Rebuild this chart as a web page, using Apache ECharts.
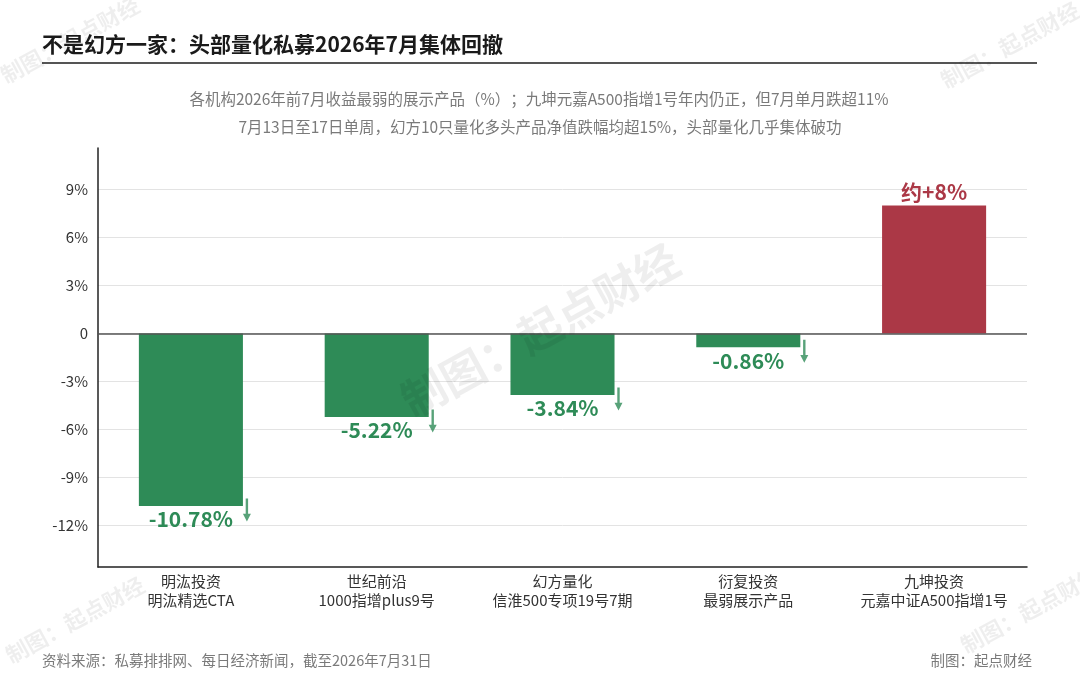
<!DOCTYPE html>
<html>
<head>
<meta charset="utf-8">
<script src="https://cdn.jsdelivr.net/npm/echarts@6/dist/echarts.min.js"></script>
<style>
html,body{margin:0;padding:0;background:#fff;}
#main{width:1080px;height:675px;}
</style>
</head>
<body>
<div id="main"></div>
<script>
var categories = ['明汯投资\n明汯精选CTA', '世纪前沿\n1000指增plus9号', '幻方量化\n信淮500专项19号7期', '衍复投资\n最弱展示产品', '九坤投资\n元嘉中证A500指增1号'];
var values = [-10.78, -5.22, -3.84, -0.86, 8];
var tickValues = [-12, -9, -6, -3, 0, 3, 6, 9];
var yMin = -14.6;
var yMax = 11.6;

var GREEN = '#2E8B57';
var RED = '#AB3846';
var FONT = '"Noto Sans CJK SC", "Noto Sans", sans-serif';

var chart = echarts.init(document.getElementById('main'));

var barData = values.map(function (v) {
  return { value: v, itemStyle: { color: v < 0 ? GREEN : RED },
    label: { position: v < 0 ? 'bottom' : 'top', color: v < 0 ? GREEN : RED } };
});
var arrowData = values.map(function (v, i) { return v < 0 ? [i, v] : null; }).filter(function (d) { return d; });

function wm(x, y, size, rot) {
  return { type: 'text', x: x, y: y, rotation: rot, silent: true, z: 100,
    style: { text: '制图：起点财经', fill: 'rgba(0,0,0,0.065)', font: 'bold ' + size + 'px ' + FONT, textAlign: 'center', textVerticalAlign: 'middle' } };
}

chart.setOption({
  backgroundColor: '#fff',
  textStyle: { fontFamily: FONT },
  animation: false,
  grid: { left: 98, right: 53, top: 148, bottom: 108 },
  xAxis: {
    type: 'category',
    data: categories,
    axisLine: { onZero: false, lineStyle: { color: '#222', width: 1.5 } },
    axisTick: { show: false },
    axisLabel: { color: '#333', fontSize: 15, lineHeight: 19, margin: 5, interval: 0 }
  },
  yAxis: {
    type: 'value',
    min: yMin,
    max: yMax,
    axisLine: { show: true, lineStyle: { color: '#222', width: 1.5 } },
    axisTick: { show: false, customValues: tickValues },
    axisLabel: { customValues: tickValues, color: '#333', fontSize: 15, margin: 10,
      formatter: function (v) { return v === 0 ? '0' : v + '%'; } },
    splitLine: { show: true, lineStyle: { color: '#e3e3e3', width: 1 } }
  },
  series: [
    {
      type: 'bar',
      data: barData,
      barWidth: '56%',
      label: {
        show: true, fontSize: 21, fontWeight: 'bold', distance: 3,
        formatter: function (p) { return p.value < 0 ? p.value.toFixed(2) + '%' : '约+' + p.value + '%'; }
      },
      markLine: {
        silent: true, symbol: 'none', label: { show: false },
        lineStyle: { color: '#555', width: 1.5, type: 'solid' },
        data: [{ yAxis: 0 }]
      }
    },
    {
      type: 'scatter',
      data: arrowData,
      symbol: 'path://M2.8,0 L5.2,0 L5.2,16 L8,16 L4,24 L0,16 L2.8,16 Z',
      symbolSize: [8, 23],
      symbolOffset: [56, 4],
      itemStyle: { color: GREEN },
      silent: true
    }
  ],
  graphic: [
    { type: 'text', left: 42, top: 34, style: { text: '不是幻方一家：头部量化私募2026年7月集体回撤', fill: '#1a1a1a', font: 'bold 21px ' + FONT } },
    { type: 'line', shape: { x1: 42, y1: 63, x2: 1037, y2: 63 }, style: { stroke: '#555', lineWidth: 2 } },
    { type: 'text', x: 539, y: 99, style: { text: '各机构2026年前7月收益最弱的展示产品（%）；九坤元嘉A500指增1号年内仍正，但7月单月跌超11%', fill: '#7a7a7a', font: '15.5px ' + FONT, textAlign: 'center', textVerticalAlign: 'middle' } },
    { type: 'text', x: 540, y: 127, style: { text: '7月13日至17日单周，幻方10只量化多头产品净值跌幅均超15%，头部量化几乎集体破功', fill: '#7a7a7a', font: '15.5px ' + FONT, textAlign: 'center', textVerticalAlign: 'middle' } },
    { type: 'text', x: 42, y: 660, style: { text: '资料来源：私募排排网、每日经济新闻，截至2026年7月31日', fill: '#7a7a7a', font: '14.5px ' + FONT, textVerticalAlign: 'middle' } },
    { type: 'text', x: 1032, y: 660, style: { text: '制图：起点财经', fill: '#7a7a7a', font: '14.5px ' + FONT, textAlign: 'right', textVerticalAlign: 'middle' } },
    wm(540, 330, 44, 0.5),
    wm(70, 40, 22, 0.5),
    wm(1010, 45, 22, 0.5),
    wm(75, 620, 22, 0.5),
    wm(1030, 610, 22, 0.5)
  ]
});
</script>
</body>
</html>
